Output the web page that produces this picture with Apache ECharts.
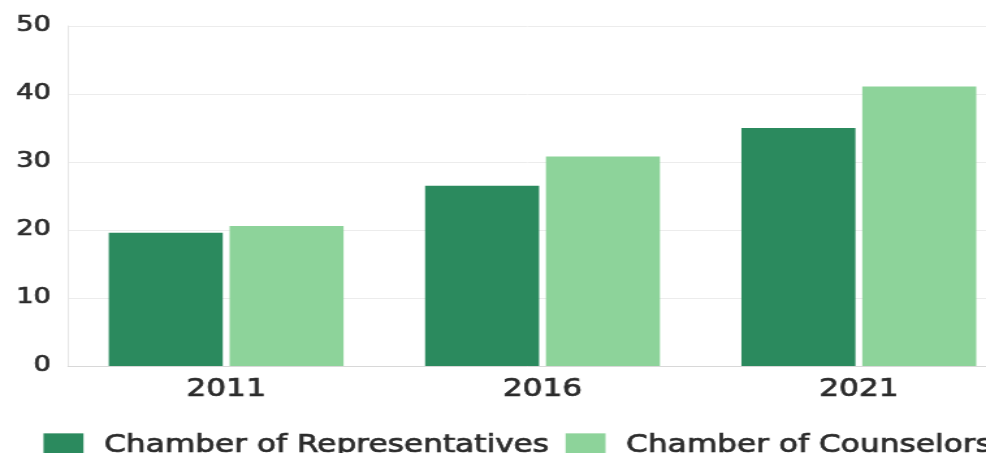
<!DOCTYPE html>
<html>
<head>
<meta charset="utf-8">
<script src="https://cdn.jsdelivr.net/npm/echarts@6/dist/echarts.min.js"></script>
<style>
  html, body { margin: 0; padding: 0; background: #fff; overflow: hidden; }
  /* the source picture is stretched sideways, so draw narrower and stretch the same way */
  #chart { width: 758px; height: 453px; transform: scaleX(1.3008); transform-origin: 0 0; }
</style>
</head>
<body>
<div id="chart"></div>
<script>
// data
var years = ['2011', '2016', '2021'];
var representatives = [19.6, 26.5, 35.0];
var counselors = [20.6, 30.8, 41.1];
var yTicks = [0, 10, 20, 30, 40, 50];

var SX = 1.3008; // horizontal stretch
var chart = echarts.init(document.getElementById('chart'));
var font = 'DejaVu Sans';
var ink = '#2b2b2b';
// a thin outline in the same colour makes the text a little heavier, like the source
var heavy = { textBorderColor: ink, textBorderWidth: 0.7 };

chart.setOption({
    animation: false,
    textStyle: { fontFamily: font },
    grid: {
        left: 68 / SX,
        top: 26,
        width: 949 / SX,
        height: 340,
        outerBoundsMode: 'none'
    },
    legend: {
        left: 37 / SX,
        top: 428,
        width: 1200,
        itemWidth: 40 / SX,
        itemHeight: 24,
        itemGap: 16 / SX,
        icon: 'rect',
        textStyle: Object.assign({ fontFamily: font, fontSize: 24, color: ink, padding: [0, 0, 0, 14 / SX] }, heavy),
        data: ['Chamber of Representatives', 'Chamber of Counselors']
    },
    xAxis: {
        type: 'category',
        data: years,
        axisLine: { lineStyle: { color: '#d8d8d8' } },
        axisTick: { show: false },
        axisLabel: Object.assign({ fontFamily: font, fontSize: 24, color: ink, margin: 12 }, heavy)
    },
    yAxis: {
        type: 'value',
        min: yTicks[0],
        max: yTicks[yTicks.length - 1],
        interval: 10,
        axisLine: { show: true, lineStyle: { color: '#e6e6e6' } },
        axisTick: { show: false },
        splitLine: { lineStyle: { color: '#ececec' } },
        axisLabel: Object.assign({ fontFamily: font, fontSize: 21, color: ink, margin: 17 / SX }, heavy)
    },
    series: [
        {
            name: 'Chamber of Representatives',
            type: 'bar',
            data: representatives,
            barWidth: 114 / SX,
            barGap: '6%',
            barCategoryGap: '0%',
            itemStyle: { color: '#2b8a5e' }
        },
        {
            name: 'Chamber of Counselors',
            type: 'bar',
            data: counselors,
            barWidth: 114 / SX,
            itemStyle: { color: '#8dd39a' }
        }
    ]
});
</script>
</body>
</html>
